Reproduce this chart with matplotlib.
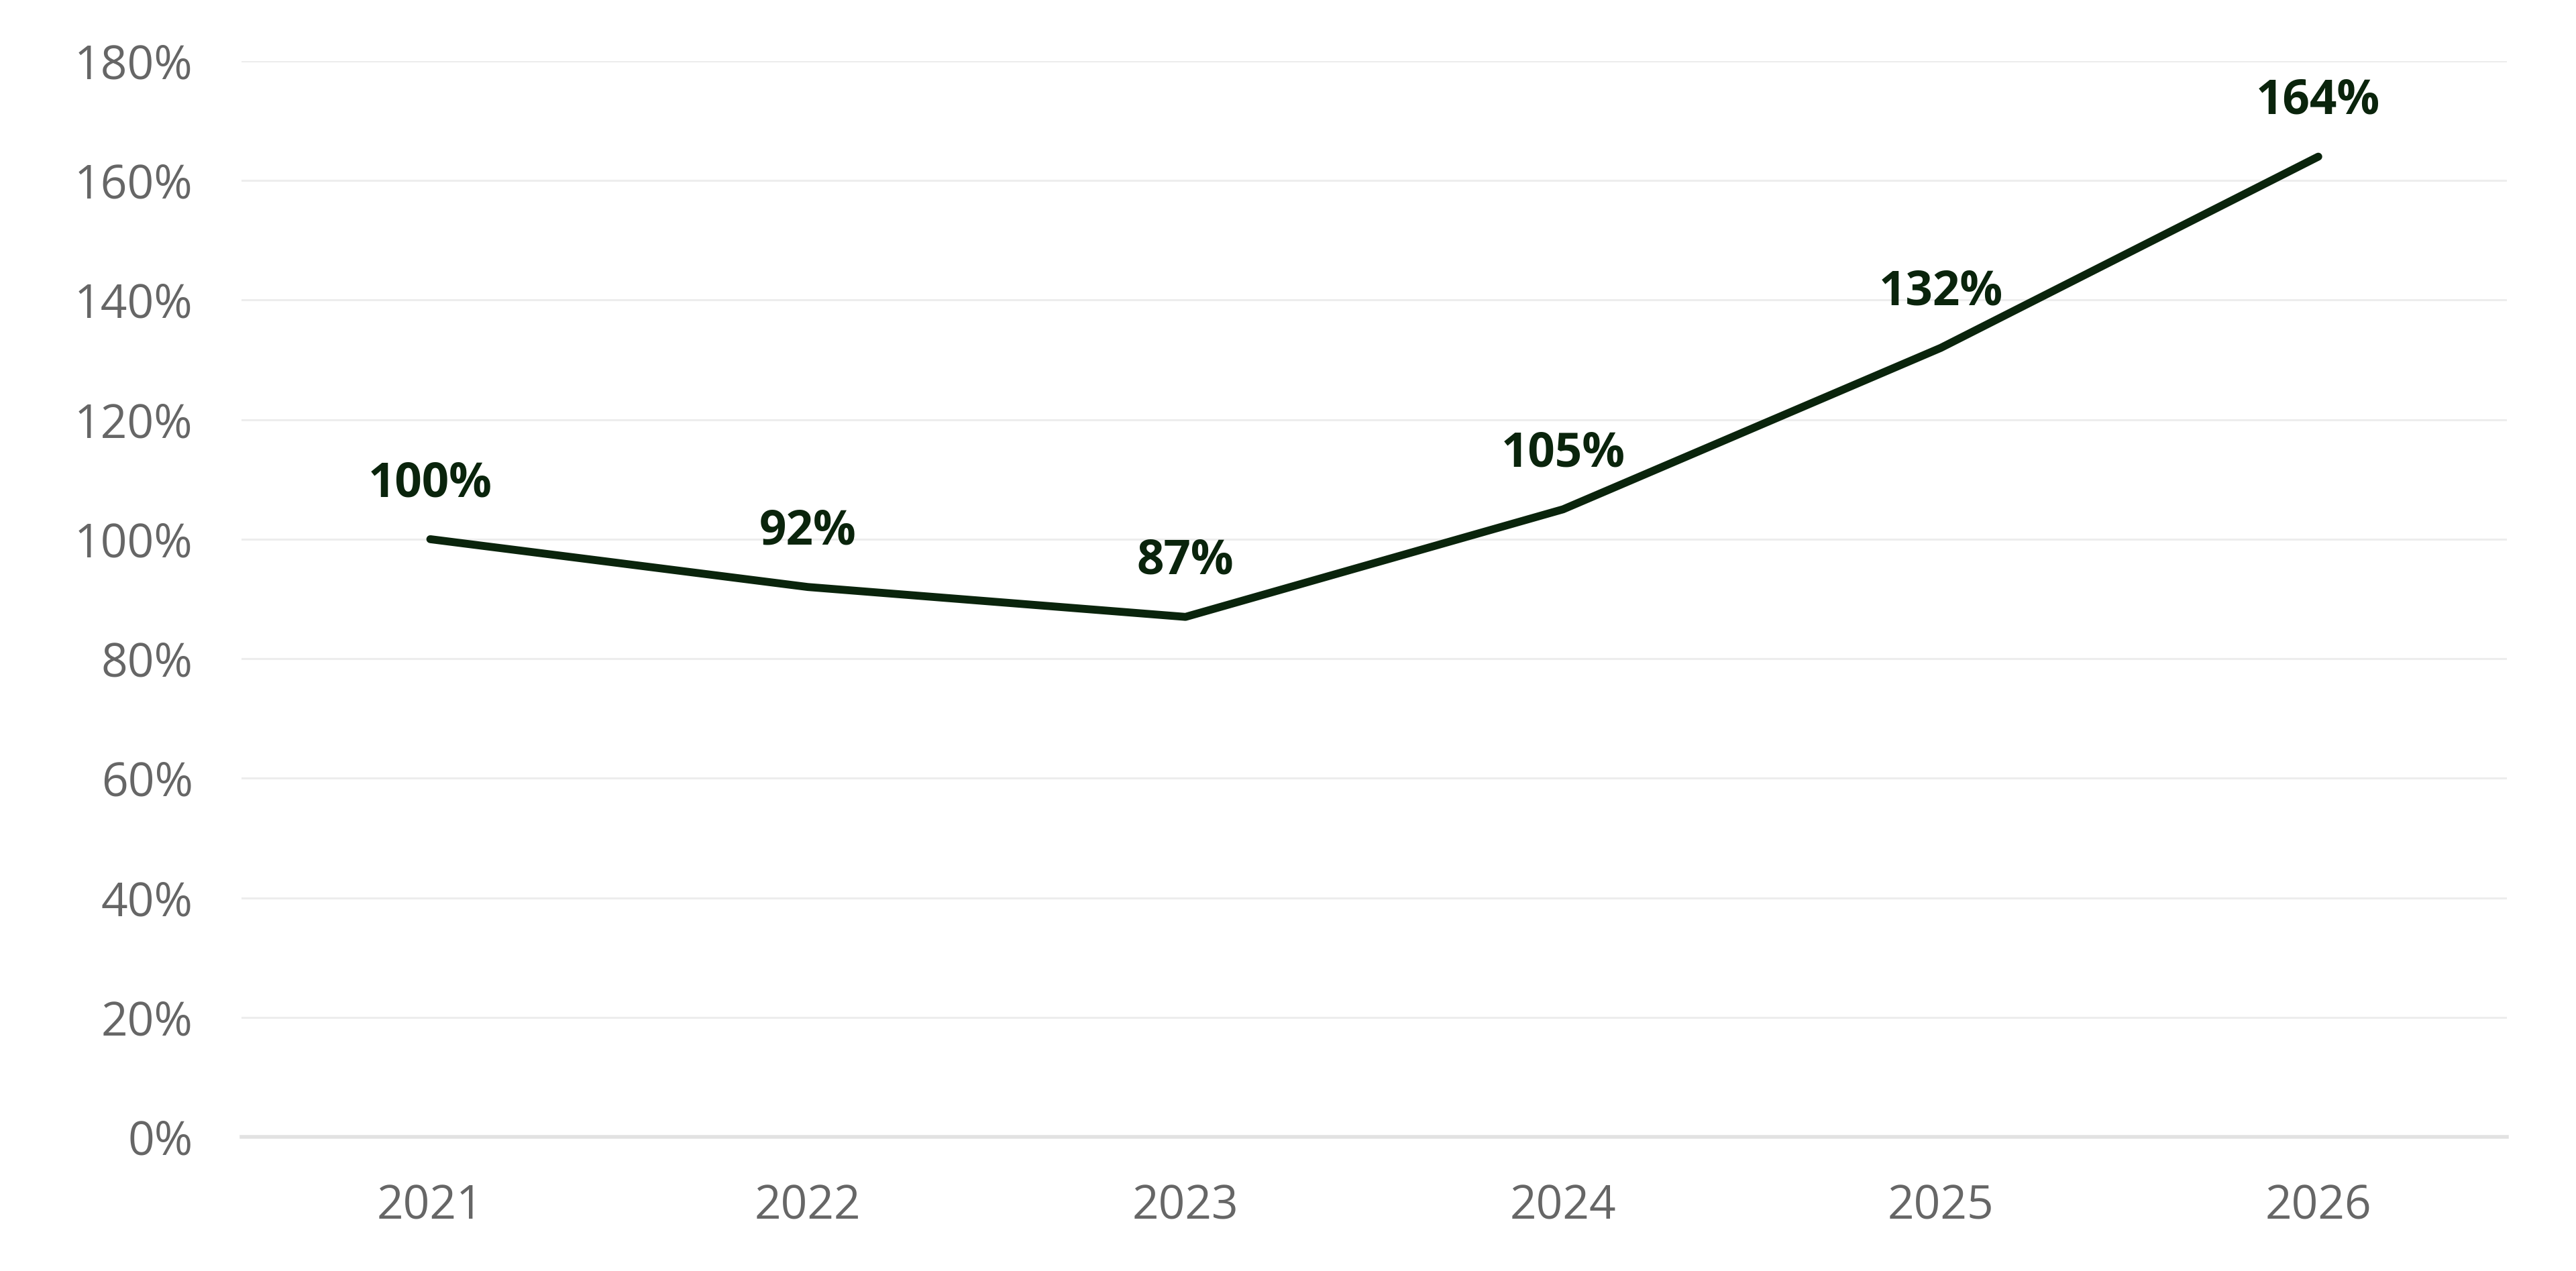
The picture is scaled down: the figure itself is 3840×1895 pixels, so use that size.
import matplotlib.pyplot as plt
import numpy as np

# data to plot
years = ['2021', '2022', '2023', '2024', '2025', '2026']
values = [100, 92, 87, 105, 132, 164]
yticks = [0, 20, 40, 60, 80, 100, 120, 140, 160, 180]

line_color = '#0a240c'
tick_color = '#666666'

plt.rcParams['font.family'] = ['Open Sans', 'DejaVu Sans']

fig = plt.figure(figsize=(38.4, 18.95), dpi=100)
ax = fig.add_axes([0.09375, 0.1055, 0.8795, 0.8465])

x = np.arange(len(years))
ax.plot(x, values, color=line_color, linewidth=8.5,
        solid_joinstyle='round', solid_capstyle='round', zorder=3)

# value labels
for xi, v in zip(x, values):
    ax.annotate('%d%%' % v, (xi, v), xytext=(0, 46), textcoords='offset points',
                ha='center', va='baseline', fontsize=51, fontweight='bold',
                color=line_color)

ax.set_xlim(-0.5, len(years) - 0.5)
ax.set_ylim(0, 180)
ax.set_xticks(x)
ax.set_xticklabels(years)
ax.set_yticks(yticks)
ax.set_yticklabels(['%d%%' % t for t in yticks])

ax.grid(axis='y', color='#ededed', linewidth=2.2, zorder=0)
for s in ['top', 'right', 'left']:
    ax.spines[s].set_visible(False)
ax.spines['bottom'].set_color('#e2e2e2')
ax.spines['bottom'].set_linewidth(4)

ax.tick_params(axis='both', length=0, labelsize=50, colors=tick_color)
ax.tick_params(axis='y', pad=52)
ax.tick_params(axis='x', pad=50)

plt.savefig('out.png', dpi=100)
